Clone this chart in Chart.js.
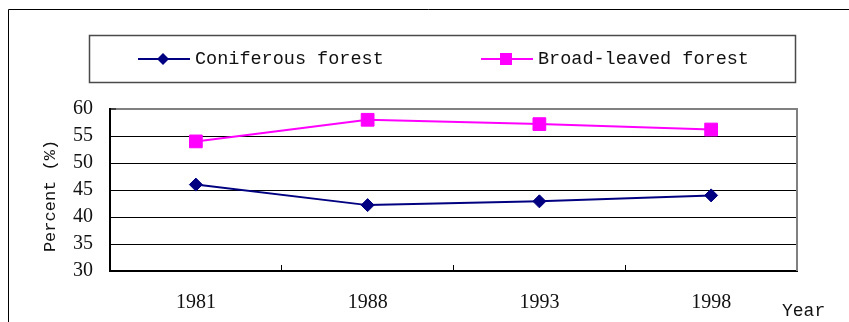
<!DOCTYPE html>
<html>
<head>
<meta charset="utf-8">
<script src="https://cdn.jsdelivr.net/npm/chart.js@4.4.1/dist/chart.umd.min.js"></script>
<style>
  html, body { margin: 0; padding: 0; background: #fff; }
  #wrap { width: 849px; height: 322px; }
</style>
</head>
<body>
<div id="wrap"><canvas id="c" width="849" height="322"></canvas></div>
<script>
// Share of forest types by survey year
const years = ['1981', '1988', '1993', '1998'];
const coniferous = [46, 42.2, 42.9, 44];
const broadLeaved = [54, 58, 57.2, 56.2];
const seriesNames = ['Coniferous forest', 'Broad-leaved forest'];
const yMin = 30, yMax = 60, yStep = 5;
const yTitle = 'Percent (%)';
const xTitle = 'Year';

const monoFont = '"Liberation Mono", "DejaVu Sans Mono", monospace';
const serifFont = '"Liberation Serif", "DejaVu Serif", serif';

// Outer frame, right border of the plot area, boxed legend and axis names
const decorations = {
  id: 'decorations',
  beforeDraw(chart) {
    const ctx = chart.ctx;
    ctx.save();
    ctx.fillStyle = '#fff';
    ctx.fillRect(0, 0, chart.width, chart.height);
    ctx.strokeStyle = '#000';
    ctx.lineWidth = 1;
    ctx.beginPath();
    ctx.moveTo(8.5, chart.height);
    ctx.lineTo(8.5, 9.5);
    ctx.lineTo(chart.width, 9.5);
    ctx.stroke();
    ctx.restore();
  },
  beforeDatasetsDraw(chart) {
    const ctx = chart.ctx;
    const a = chart.chartArea;
    ctx.save();
    ctx.strokeStyle = '#808080';
    ctx.lineWidth = 2;
    ctx.beginPath();
    ctx.moveTo(a.right, a.top - 1);
    ctx.lineTo(a.right, a.bottom);
    ctx.stroke();
    ctx.restore();
  },
  afterDraw(chart) {
    const ctx = chart.ctx;
    const a = chart.chartArea;
    ctx.save();
    // legend box
    ctx.strokeStyle = '#4a4a4a';
    ctx.lineWidth = 1.5;
    ctx.strokeRect(89.5, 35.5, 706, 47);

    const starts = [138, 481];
    const cy = 59;
    chart.data.datasets.forEach((ds, i) => {
      const x0 = starts[i];
      ctx.strokeStyle = ds.borderColor;
      ctx.lineWidth = 2;
      ctx.beginPath();
      ctx.moveTo(x0, cy);
      ctx.lineTo(x0 + 52, cy);
      ctx.stroke();
      const mx = x0 + 25;
      ctx.fillStyle = ds.backgroundColor;
      ctx.beginPath();
      if (ds.pointStyle === 'rectRot') {
        const r = 6;
        ctx.moveTo(mx - r, cy);
        ctx.lineTo(mx, cy - r);
        ctx.lineTo(mx + r, cy);
        ctx.lineTo(mx, cy + r);
        ctx.closePath();
      } else {
        ctx.rect(mx - 6, cy - 6, 12, 12);
      }
      ctx.fill();
      ctx.fillStyle = '#111';
      ctx.font = '18.5px ' + monoFont;
      ctx.textBaseline = 'middle';
      ctx.textAlign = 'left';
      ctx.fillText(ds.label, x0 + 57, cy);
    });

    // y-axis name, rotated
    ctx.save();
    ctx.translate(50, (a.top + a.bottom) / 2 + 6);
    ctx.rotate(-Math.PI / 2);
    ctx.fillStyle = '#111';
    ctx.font = '17px ' + monoFont;
    ctx.textAlign = 'center';
    ctx.textBaseline = 'middle';
    ctx.fillText(yTitle, 0, 0);
    ctx.restore();

    // x-axis name at the lower right
    ctx.fillStyle = '#111';
    ctx.font = '18px ' + monoFont;
    ctx.textBaseline = 'alphabetic';
    ctx.textAlign = 'left';
    ctx.fillText(xTitle, 782, 316);
    ctx.restore();
  }
};

new Chart(document.getElementById('c'), {
  type: 'line',
  data: {
    labels: years,
    datasets: [
      {
        label: seriesNames[0],
        data: coniferous,
        borderColor: '#000080',
        backgroundColor: '#000080',
        borderWidth: 2,
        pointStyle: 'rectRot',
        pointRadius: 6.5,
        pointBorderWidth: 1,
        tension: 0,
        clip: false
      },
      {
        label: seriesNames[1],
        data: broadLeaved,
        borderColor: '#FF00FF',
        backgroundColor: '#FF00FF',
        borderWidth: 2,
        pointStyle: 'rect',
        pointRadius: 9,
        pointBorderWidth: 1,
        tension: 0,
        clip: false
      }
    ]
  },
  options: {
    responsive: false,
    animation: false,
    events: [],
    layout: { padding: { top: 109, right: 52, left: 0, bottom: 0 } },
    plugins: {
      legend: { display: false },
      tooltip: { enabled: false },
      title: { display: false }
    },
    scales: {
      x: {
        type: 'category',
        offset: true,
        grid: {
          offset: true,
          drawOnChartArea: false,
          tickLength: -6,
          tickColor: '#000',
          tickWidth: 1
        },
        border: { color: '#000', width: 2 },
        ticks: {
          font: { family: serifFont, size: 20 },
          color: '#111',
          padding: 26,
          maxRotation: 0
        },
        afterFit(s) { s.height = 51; }
      },
      y: {
        min: yMin,
        max: yMax,
        ticks: {
          stepSize: yStep,
          font: { family: serifFont, size: 20 },
          color: '#111',
          padding: 23
        },
        grid: {
          color: c => (c.tick && c.tick.value === yMax) ? '#808080' : '#000',
          lineWidth: c => (c.tick && c.tick.value === yMax) ? 2 : 1,
          tickLength: -6,
          tickColor: '#000',
          tickWidth: 1
        },
        border: { color: '#000', width: 2 },
        title: { display: false },
        afterFit(s) { s.width = 110; }
      }
    }
  },
  plugins: [decorations]
});
</script>
</body>
</html>
